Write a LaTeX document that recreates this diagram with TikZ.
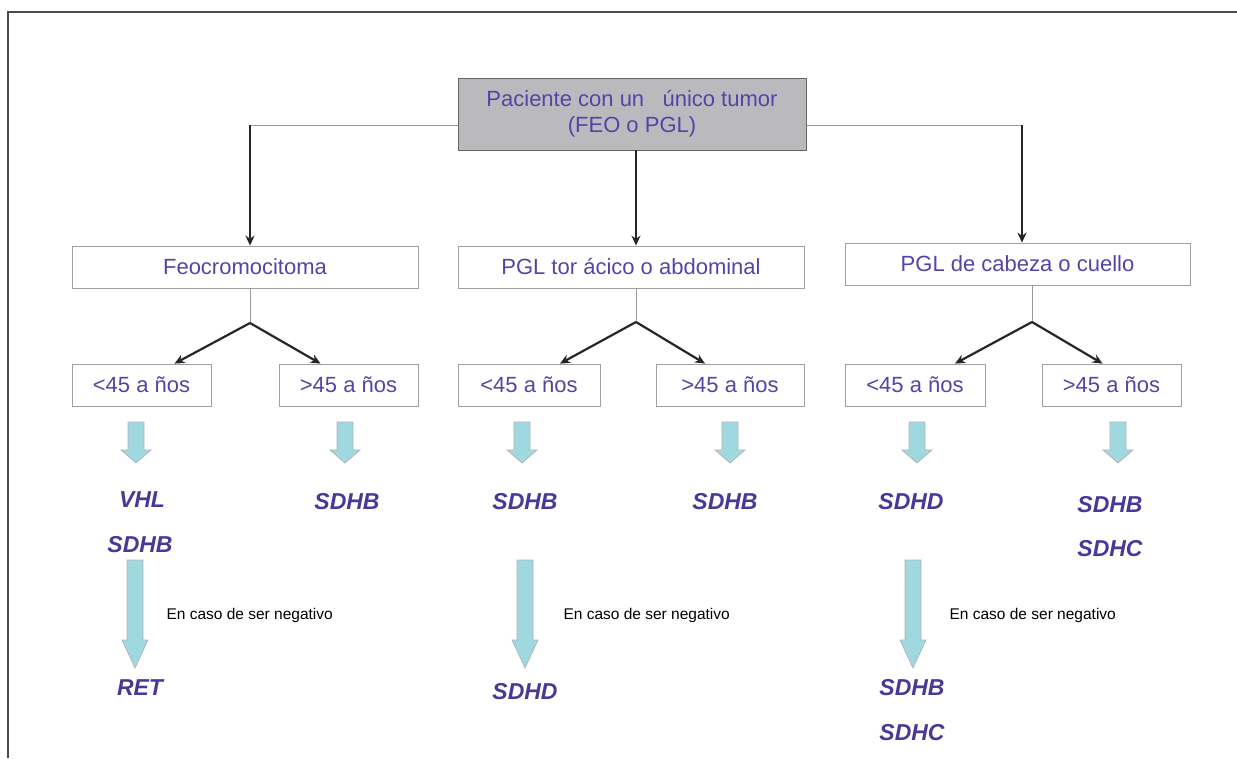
\documentclass[tikz,border=0pt]{standalone}
\usepackage{fontspec}
\setmainfont{Liberation Sans}
\usetikzlibrary{arrows.meta, calc, positioning}
\definecolor{txtblue}{RGB}{84,68,166}
\definecolor{genblue}{RGB}{72,56,152}
\definecolor{boxgray}{RGB}{186,186,190}
\definecolor{arrcyan}{RGB}{160,216,224}

\begin{document}
\begin{tikzpicture}[x=1pt, y=-1pt, font=\fontsize{22}{26}\selectfont,
  box/.style={draw=gray!75, line width=0.8pt, text=txtblue, minimum height=42pt, inner sep=0pt},
  gene/.style={text=genblue, font=\fontsize{23}{26}\selectfont\bfseries\itshape},
  note/.style={font=\fontsize{15.5}{18}\selectfont, anchor=west},
  link/.style={gray!80, line width=0.8pt},
  flow/.style={-{Stealth[length=10pt,width=9pt]}, line width=2.2pt, black!85},
  blockarr/.style={fill=arrcyan, draw=gray!60, line width=0.7pt}]

\useasboundingbox (0,0) rectangle (1237,758);

% Frame
\draw[gray!60!black, line width=1.5pt] (8,758) -- (8,12) -- (1237,12);

% Horizontal bar behind the top box
\coordinate (tl) at (250,125);
\coordinate (tr) at (1022,125);
\draw[link] (tl) -- (tr);

% Top box
\node[box, fill=boxgray, draw=gray!80!black, minimum width=348pt, minimum height=72pt, align=center]
  (top) at (632,114) {Paciente con un \ \ único tumor\\(FEO o PGL)};

% Second level
\node[box, minimum width=346pt] (feo) at (245,267) {Feocromocitoma};
\node[box, minimum width=346pt] (pgl) at (631,267) {PGL tor ácico o abdominal};
\node[box, minimum width=345pt] (cab) at (1017.5,264) {PGL de cabeza o cuello};

\draw[flow] (tl) -- (tl |- feo.north);
\draw[flow] (top.south -| 636,0) -- (pgl.north -| 636,0);
\draw[flow] (tr) -- (tr |- cab.north);

% Age boxes
\node[box, minimum width=139pt] (ltA) at (141.5,385) {<45 a ños};
\node[box, minimum width=139pt] (gtA) at (348.5,385) {>45 a ños};
\node[box, minimum width=142pt] (ltB) at (529,385) {<45 a ños};
\node[box, minimum width=148pt] (gtB) at (730,385) {>45 a ños};
\node[box, minimum width=140pt] (ltC) at (915,385) {<45 a ños};
\node[box, minimum width=139pt] (gtC) at (1111.5,385) {>45 a ños};

% Branch points
\coordinate (bA) at (250,323);
\coordinate (bB) at (636,322);
\coordinate (bC) at (1032,322);

\foreach \b/\p/\l/\g/\dl/\dg in {bA/feo/ltA/gtA/33/-28, bB/pgl/ltB/gtB/31/-25, bC/cab/ltC/gtC/40/-9} {
    \draw[link] (\b |- \p.south) -- (\b);
    \draw[flow] (\b) -- ([xshift=\dl pt]\l.north);
    \draw[flow] (\b) -- ([xshift=\dg pt]\g.north);
}

% Short block arrows
\foreach \x in {136,345,522,730,917,1118} {
    \filldraw[blockarr] (\x-8,422) -- (\x+8,422) -- (\x+8,450) -- (\x+15,450)
      -- (\x,463) -- (\x-15,450) -- (\x-8,450) -- cycle;
}

% Long block arrows
\foreach \x in {135,525,913} {
    \filldraw[blockarr] (\x-8,560) -- (\x+8,560) -- (\x+8,640) -- (\x+13,640)
      -- (\x,668) -- (\x-13,640) -- (\x-8,640) -- cycle;
}

% Genes
\node[gene] (vhlA) at (142,500) {VHL};
\node[gene] (sdhbA) at (140,545) {SDHB};
\node[gene] (sdhbA2) at (347,502) {SDHB};
\node[gene] (retA) at (140,688) {RET};
\node[gene] (sdhbB) at (525,502) {SDHB};
\node[gene] (sdhbB2) at (725,502) {SDHB};
\node[gene] (sdhdB) at (525,692) {SDHD};
\node[gene] (sdhdC) at (911,502) {SDHD};
\node[gene] (sdhbC2) at (1110,505) {SDHB};
\node[gene] (sdhcC2) at (1110,549) {SDHC};
\node[gene] (sdhbC) at (912,688) {SDHB};
\node[gene] (sdhcC) at (912,733) {SDHC};

% Notes
\node[note] (negA) at (163,615) {En caso de ser negativo};
\node[note] (negB) at (560,615) {En caso de ser negativo};
\node[note] (negC) at (946,615) {En caso de ser negativo};

\end{tikzpicture}
\end{document}
